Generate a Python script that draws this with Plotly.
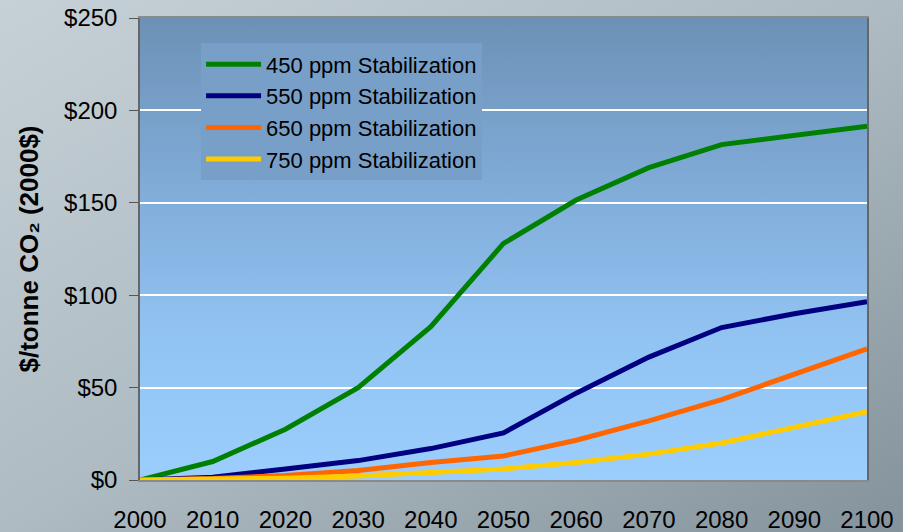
import base64
import plotly.graph_objects as go

years = [2000, 2010, 2020, 2030, 2040, 2050, 2060, 2070, 2080, 2090, 2100]
s450 = [0, 10, 27.5, 50, 83, 128, 151.5, 169, 181.5, 186.5, 191.5]
s550 = [0, 1.5, 6, 10.5, 17, 25.5, 47, 66.5, 82.5, 90, 96.5]
s650 = [0, 0.8, 2.5, 5.2, 9.5, 13, 21.5, 32, 43.5, 57.5, 71]
s750 = [0, 0.4, 1, 2.2, 3.8, 6, 9.5, 14, 20, 28.5, 37]

names = ["450 ppm Stabilization", "550 ppm Stabilization",
         "650 ppm Stabilization", "750 ppm Stabilization"]
series = [s450, s550, s650, s750]
colors = ["#008000", "#000080", "#ff6600", "#ffcc00"]
ytickvals = [0, 50, 100, 150, 200, 250]
yticktext = ["$0", "$50", "$100", "$150", "$200", "$250"]


def svg_uri(svg):
    return "data:image/svg+xml;base64," + base64.b64encode(svg.encode()).decode()


bg_svg = ('<svg xmlns="http://www.w3.org/2000/svg" width="903" height="532" viewBox="0 0 903 532" preserveAspectRatio="none">'
          '<defs><linearGradient id="g" x1="0" y1="0" x2="1" y2="1">'
          '<stop offset="0" stop-color="#c6d1d7"/><stop offset="0.5" stop-color="#aebbc2"/>'
          '<stop offset="1" stop-color="#84929b"/></linearGradient></defs>'
          '<rect width="903" height="532" fill="url(#g)"/></svg>')
plot_svg = ('<svg xmlns="http://www.w3.org/2000/svg" width="100" height="100" viewBox="0 0 100 100" preserveAspectRatio="none">'
            '<defs><linearGradient id="p" x1="0" y1="0" x2="0" y2="1">'
            '<stop offset="0" stop-color="#6c91b6"/><stop offset="0.4" stop-color="#82aedb"/>'
            '<stop offset="0.7" stop-color="#92c4f3"/><stop offset="1" stop-color="#9bcefd"/>'
            '</linearGradient></defs><rect width="100" height="100" fill="url(#p)"/></svg>')

fig = go.Figure()
for n, s, c in zip(names, series, colors):
    fig.add_trace(go.Scatter(x=years, y=s, mode="lines", name=n,
                             line=dict(color=c, width=5)))

W, H = 903, 532
ml, mr, mt, mb = 140, 36, 18, 52
pw, ph = W - ml - mr, H - mt - mb

fig.update_layout(
    width=W, height=H,
    margin=dict(l=ml, r=mr, t=mt, b=mb),
    paper_bgcolor="#b4c0c6",
    plot_bgcolor="rgba(0,0,0,0)",
    font=dict(family="Liberation Sans, Arial, sans-serif", color="#000000"),
    showlegend=True,
    legend=dict(x=0.084, y=0.945, xanchor="left", yanchor="top",
                bgcolor="#789fc8", borderwidth=0,
                font=dict(size=22, color="#000000"),
                itemwidth=55, tracegroupgap=0),
    images=[
        dict(source=svg_uri(bg_svg), xref="paper", yref="paper",
             x=-ml / pw, y=1 + mt / ph, sizex=W / pw, sizey=H / ph,
             sizing="stretch", layer="below", xanchor="left", yanchor="top"),
        dict(source=svg_uri(plot_svg), xref="paper", yref="paper",
             x=0, y=1, sizex=1, sizey=1,
             sizing="stretch", layer="below", xanchor="left", yanchor="top"),
    ],
)

fig.update_xaxes(range=[2000, 2100], tickvals=years, ticktext=[str(y) for y in years],
                 showgrid=False, zeroline=False, showline=True, linecolor="#8a8a8a",
                 linewidth=1.5, mirror=True, ticks="", ticklabelstandoff=17,
                 automargin=False,
                 tickfont=dict(size=24, color="#000000"))
fig.update_yaxes(range=[0, 250], tickvals=ytickvals, ticktext=yticktext,
                 showgrid=True, gridcolor="#ffffff", gridwidth=1.5,
                 zeroline=False, showline=True, linecolor="#666666", linewidth=1.5,
                 mirror=True, ticks="outside", ticklen=9, tickcolor="#555555",
                 ticklabelstandoff=7, automargin=False,
                 tickfont=dict(size=24, color="#000000"),
                 title=dict(text="<b>$/tonne CO₂ (2000$)</b>", font=dict(size=26, color="#000000"),
                            standoff=18))

fig.write_html("out.html")
